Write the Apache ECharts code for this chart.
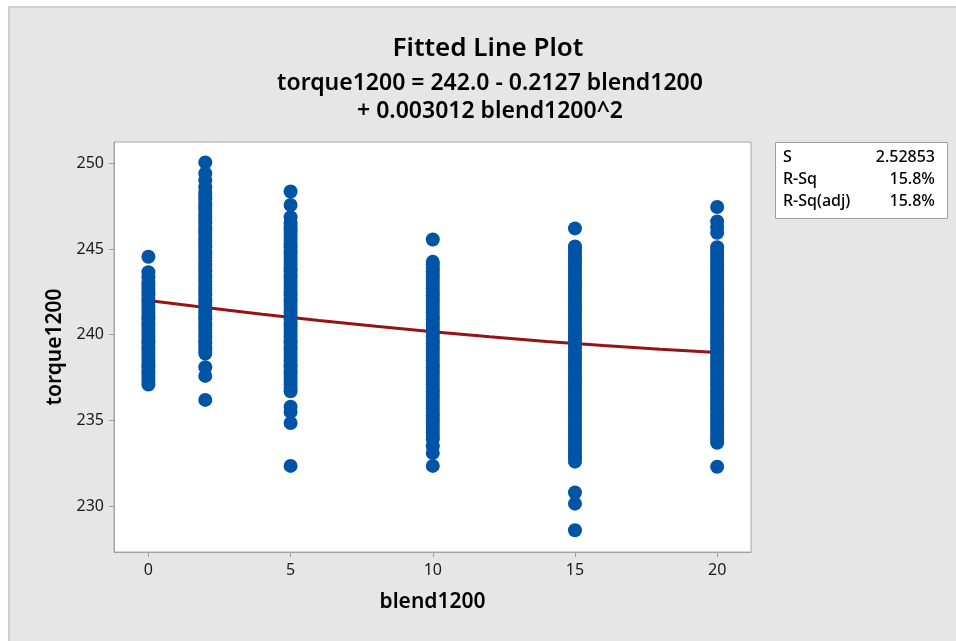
<!DOCTYPE html>
<html>
<head>
<meta charset="utf-8">
<script src="https://cdn.jsdelivr.net/npm/echarts@6/dist/echarts.min.js"></script>
<style>html,body{margin:0;padding:0;background:#fff;}#chart{width:956px;height:641px;}</style>
</head>
<body>
<div id="chart"></div>
<script>
// x positions of the observation columns (blend1200)
const blendLevels = [0, 2, 5, 10, 15, 20];
const col0 = [237.1, 237.3, 237.5, 237.7, 237.9, 238.1, 238.3, 238.5, 238.7, 238.9, 239.1, 239.3, 239.5, 239.7, 239.9, 240.1, 240.3, 240.5, 240.7, 240.9, 241.1, 241.3, 241.5, 241.7, 241.9, 242.1, 242.3, 242.5, 242.7, 242.9, 243.05, 243.35, 243.65, 244.55];
const col2 = [236.2, 237.6, 238.1, 238.9, 239.1, 239.3, 239.5, 239.7, 239.9, 240.1, 240.3, 240.5, 240.7, 240.9, 241.1, 241.3, 241.5, 241.7, 241.9, 242.1, 242.3, 242.5, 242.7, 242.9, 243.1, 243.3, 243.5, 243.7, 243.9, 244.1, 244.3, 244.5, 244.7, 244.9, 245.1, 245.3, 245.5, 245.7, 245.9, 246.1, 246.3, 246.5, 246.7, 246.9, 247.1, 247.3, 247.5, 247.7, 247.9, 248.1, 248.3, 248.6, 249.0, 249.4, 250.05];
const col5 = [232.35, 234.85, 235.5, 235.8, 236.7, 236.9, 237.1, 237.3, 237.5, 237.7, 237.9, 238.1, 238.3, 238.5, 238.7, 238.9, 239.1, 239.3, 239.5, 239.7, 239.9, 240.1, 240.3, 240.5, 240.7, 240.9, 241.1, 241.3, 241.5, 241.7, 241.9, 242.1, 242.3, 242.5, 242.7, 242.9, 243.1, 243.3, 243.5, 243.7, 243.9, 244.1, 244.3, 244.5, 244.7, 244.9, 245.1, 245.3, 245.5, 245.7, 245.9, 246.1, 246.3, 246.5, 246.85, 247.57, 248.35];
const col10 = [232.35, 233.1, 233.5, 233.9, 234.1, 234.3, 234.5, 234.7, 234.9, 235.1, 235.3, 235.5, 235.7, 235.9, 236.1, 236.3, 236.5, 236.7, 236.9, 237.1, 237.3, 237.5, 237.7, 237.9, 238.1, 238.3, 238.5, 238.7, 238.9, 239.1, 239.3, 239.5, 239.7, 239.9, 240.1, 240.3, 240.5, 240.7, 240.9, 241.1, 241.3, 241.5, 241.7, 241.9, 242.1, 242.3, 242.5, 242.7, 242.9, 243.1, 243.3, 243.5, 243.7, 243.9, 244.1, 244.25, 245.55];
const col15 = [228.6, 230.15, 230.8, 232.6, 232.8, 233.0, 233.2, 233.4, 233.6, 233.8, 234.0, 234.2, 234.4, 234.6, 234.8, 235.0, 235.2, 235.4, 235.6, 235.8, 236.0, 236.2, 236.4, 236.6, 236.8, 237.0, 237.2, 237.4, 237.6, 237.8, 238.0, 238.2, 238.4, 238.6, 238.8, 239.0, 239.2, 239.4, 239.6, 239.8, 240.0, 240.2, 240.4, 240.6, 240.8, 241.0, 241.2, 241.4, 241.6, 241.8, 242.0, 242.2, 242.4, 242.6, 242.8, 243.0, 243.2, 243.4, 243.6, 243.8, 244.0, 244.2, 244.4, 244.6, 244.8, 245.0, 245.15, 246.2];
const col20 = [232.3, 233.7, 233.9, 234.1, 234.3, 234.5, 234.7, 234.9, 235.1, 235.3, 235.5, 235.7, 235.9, 236.1, 236.3, 236.5, 236.7, 236.9, 237.1, 237.3, 237.5, 237.7, 237.9, 238.1, 238.3, 238.5, 238.7, 238.9, 239.1, 239.3, 239.5, 239.7, 239.9, 240.1, 240.3, 240.5, 240.7, 240.9, 241.1, 241.3, 241.5, 241.7, 241.9, 242.1, 242.3, 242.5, 242.7, 242.9, 243.1, 243.3, 243.5, 243.7, 243.9, 244.1, 244.3, 244.5, 244.7, 244.9, 245.1, 245.95, 246.25, 246.6, 247.45];
// fitted curve
const fitX = [0, 2, 4, 6, 8, 10, 12, 14, 16, 18, 20];
const fitY = [242.0, 241.59, 241.2, 240.83, 240.49, 240.17, 239.88, 239.61, 239.37, 239.16, 238.97];
// tick labels
const xTicks = [0, 5, 10, 15, 20];
const yTicks = [230, 235, 240, 245, 250];
// summary table
const statNames = ['S', 'R-Sq', 'R-Sq(adj)'];
const statValues = ['2.52853', '15.8%', '15.8%'];

const columns = [col0, col2, col5, col10, col15, col20];
const scatterData = [];
columns.forEach((col, i) => col.forEach(v => scatterData.push([blendLevels[i], v])));
const fitData = fitX.map((x, i) => [x, fitY[i]]);

const FONT = '"Noto Sans", "Open Sans", sans-serif';
const chart = echarts.init(document.getElementById('chart'), null, {renderer: 'canvas'});

const statGraphics = [];
statNames.forEach((n, i) => {
  statGraphics.push({type: 'text', x: 783, y: 157 + i * 22.3, z: 10,
    style: {text: n, font: '500 16px ' + FONT, fill: '#000', align: 'left', verticalAlign: 'middle'}});
  statGraphics.push({type: 'text', x: 935, y: 157 + i * 22.3, z: 10,
    style: {text: statValues[i], font: '500 16px ' + FONT, fill: '#000', align: 'right', verticalAlign: 'middle'}});
});

chart.setOption({
  backgroundColor: '#ffffff',
  animation: false,
  title: [
    {text: 'Fitted Line Plot', left: 483, top: 31, textAlign: 'center',
     textStyle: {fontFamily: FONT, fontSize: 26, fontWeight: 600, color: '#000'}},
    {text: 'torque1200 = 242.0 - 0.2127 blend1200\n+ 0.003012 blend1200^2', left: 485, top: 64, textAlign: 'center',
     textStyle: {fontFamily: FONT, fontSize: 23, fontWeight: 600, color: '#000', lineHeight: 28}}
  ],
  graphic: [
    {type: 'rect', left: 8, top: 6, z: -10, silent: true,
     shape: {width: 950, height: 640}, style: {fill: '#e6e6e6', stroke: '#cfcfcf', lineWidth: 2}},
    {type: 'rect', left: 775, top: 142, z: 5,
     shape: {width: 172, height: 76}, style: {fill: '#fff', stroke: '#a0a0a0', lineWidth: 1}},
    ...statGraphics
  ],
  grid: {left: 114, top: 142, right: 205, bottom: 89, show: true, backgroundColor: '#fff',
         borderColor: '#a6a6a6', borderWidth: 1},
  xAxis: {
    type: 'value', min: -1.21, max: 21.19,
    name: 'blend1200', nameLocation: 'middle', nameGap: 40,
    nameTextStyle: {fontFamily: FONT, fontSize: 21, fontWeight: 600, color: '#000'},
    axisLine: {onZero: false, lineStyle: {color: '#a0a0a0', width: 1}},
    axisTick: {show: true, length: 5, customValues: xTicks, lineStyle: {color: '#a0a0a0'}},
    axisLabel: {customValues: xTicks, fontFamily: FONT, fontSize: 16, color: '#1a1a1a', margin: 10},
    splitLine: {show: false}
  },
  yAxis: {
    type: 'value', min: 227.33, max: 251.24,
    name: 'torque1200', nameLocation: 'middle', nameGap: 47, nameRotate: 90,
    nameTextStyle: {fontFamily: FONT, fontSize: 21, fontWeight: 600, color: '#000'},
    axisLine: {show: true, onZero: false, lineStyle: {color: '#a0a0a0', width: 1}},
    axisTick: {show: true, length: 5, customValues: yTicks, lineStyle: {color: '#a0a0a0'}},
    axisLabel: {customValues: yTicks, fontFamily: FONT, fontSize: 16, color: '#1a1a1a', margin: 10},
    splitLine: {show: false}
  },
  series: [
    {type: 'line', data: fitData, showSymbol: false, smooth: false, z: 2,
     lineStyle: {color: '#951313', width: 3}},
    {type: 'scatter', data: scatterData, symbolSize: 14, z: 3, large: false,
     itemStyle: {color: '#0054a6', opacity: 1}}
  ]
});
</script>
</body>
</html>
